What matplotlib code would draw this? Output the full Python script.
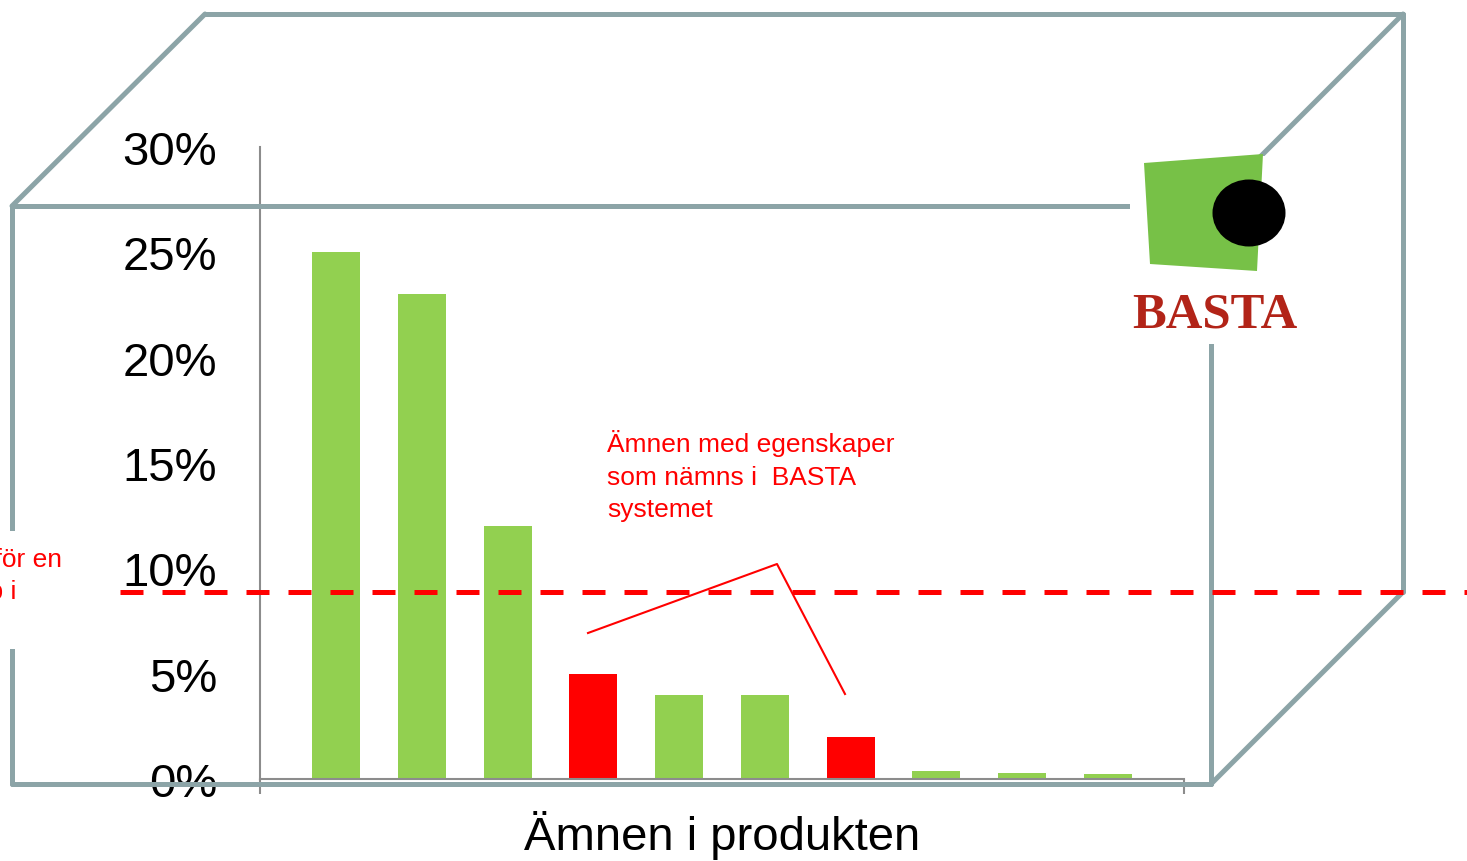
import matplotlib
matplotlib.use("Agg")
import matplotlib.pyplot as plt
from matplotlib.patches import Polygon, Ellipse, Rectangle
from matplotlib.lines import Line2D
from matplotlib.ticker import FuncFormatter
import matplotlib.transforms as mtransforms

plt.rcParams['font.family'] = ['Liberation Sans', 'DejaVu Sans']

# ---- data ----
categories = [f"Ämne {i}" for i in range(1, 11)]
values = [0.250, 0.230, 0.120, 0.050, 0.040, 0.040, 0.020, 0.0038, 0.0028, 0.0024]
bar_colors = ['#92D050', '#92D050', '#92D050', '#FF0000', '#92D050',
              '#92D050', '#FF0000', '#92D050', '#92D050', '#92D050']
yticks = [0.0, 0.05, 0.10, 0.15, 0.20, 0.25, 0.30]
threshold = 0.0887
xlabel = "Ämnen i produkten"
annotation = "Ämnen med egenskaper\nsom nämns i  BASTA\nsystemet"

W, H = 1467, 862
fig = plt.figure(figsize=(W / 100, H / 100), dpi=100)
fig.patch.set_facecolor('white')

# main axes in pixel layout
L, R, T, B = 260, 1184, 148, 780
ax = fig.add_axes([L / W, (H - B) / H, (R - L) / W, (B - T) / H])
ax.set_facecolor('none')
x = list(range(len(values)))
ax.bar(x, values, width=0.56, color=bar_colors, zorder=2)
ax.set_ylim(0, 0.30)
xl = (-0.886, 9.886)
ax.set_xlim(*xl)
ax.set_yticks(yticks)
ax.yaxis.set_major_formatter(FuncFormatter(lambda v, p: f"{v*100:.0f}%"))
ax.tick_params(axis='y', length=0, pad=31, labelsize=34, labelcolor='black')
ax.set_xticks(list(xl))
ax.set_xticklabels([])
ax.tick_params(axis='x', length=11, width=1.5, color='#8C8C8C', direction='out')
for s in ['top', 'right']:
    ax.spines[s].set_visible(False)
for s in ['left', 'bottom']:
    ax.spines[s].set_color('#8C8C8C')
    ax.spines[s].set_linewidth(1.5)
ax.set_xlabel(xlabel, fontsize=34)
ax.xaxis.set_label_coords(0.5, -(850 - B) / (B - T))
ax.xaxis.label.set_va('baseline')

# overlay in pixel coordinates
ov = fig.add_axes([0, 0, 1, 1], zorder=5)
ov.set_xlim(0, W)
ov.set_ylim(H, 0)
ov.axis('off')
ov.set_facecolor('none')

cube = '#8CA4A7'
lw = 3.6
segs = [
    ((12, 207), (1211, 207)), ((12, 207), (12, 785)), ((12, 785), (1211, 785)),
    ((1211, 207), (1211, 785)), ((205, 15), (1403, 15)), ((1403, 15), (1403, 593)),
    ((12, 207), (205, 15)), ((1211, 207), (1403, 15)), ((1211, 785), (1403, 593)),
]
for (x0, y0), (x1, y1) in segs:
    ov.plot([x0, x1], [y0, y1], color=cube, lw=lw, solid_capstyle='round', zorder=1)

# white areas (logo box, left text box)
ov.add_patch(Rectangle((1130, 157), 170, 188, facecolor='white', edgecolor='none', zorder=2))
ov.add_patch(Rectangle((0, 532), 72, 118, facecolor='white', edgecolor='none', zorder=2))

# threshold dashed line
tr = mtransforms.blended_transform_factory(fig.transFigure, ax.transData)
ov.add_line(Line2D([120 / W, 1.0], [threshold, threshold], transform=tr, color='#FF0000',
                   lw=3.6, dashes=(4.6, 3.8), clip_on=False, zorder=4))

# left cut-off text
ov.text(62, 560, "Gränsvärde för en", color='#FF0000', fontsize=19, ha='right', va='center', zorder=3)
ov.text(16, 592, "halt upp i", color='#FF0000', fontsize=19, ha='right', va='center', zorder=3)

# annotation
ov.text(607, 430, annotation, color='#FF0000', fontsize=19, ha='left', va='top',
        linespacing=1.45, zorder=3)
ov.plot([588, 777, 845], [634, 565, 695], color='#FF0000', lw=1.5, zorder=3)

# logo
ov.add_patch(Polygon([(1144, 164), (1263, 155), (1257, 272), (1150, 265)], closed=True,
                     facecolor='#77C147', edgecolor='none', zorder=3))
ov.add_patch(Ellipse((1249, 214), 73, 67, facecolor='black', edgecolor='none', zorder=4))
ov.text(1215, 328, "BASTA", color='#B22418', fontsize=36.5, fontweight='bold',
        family=['Liberation Serif', 'DejaVu Serif'], ha='center', va='baseline', zorder=4)

fig.savefig('out.png', dpi=100)
